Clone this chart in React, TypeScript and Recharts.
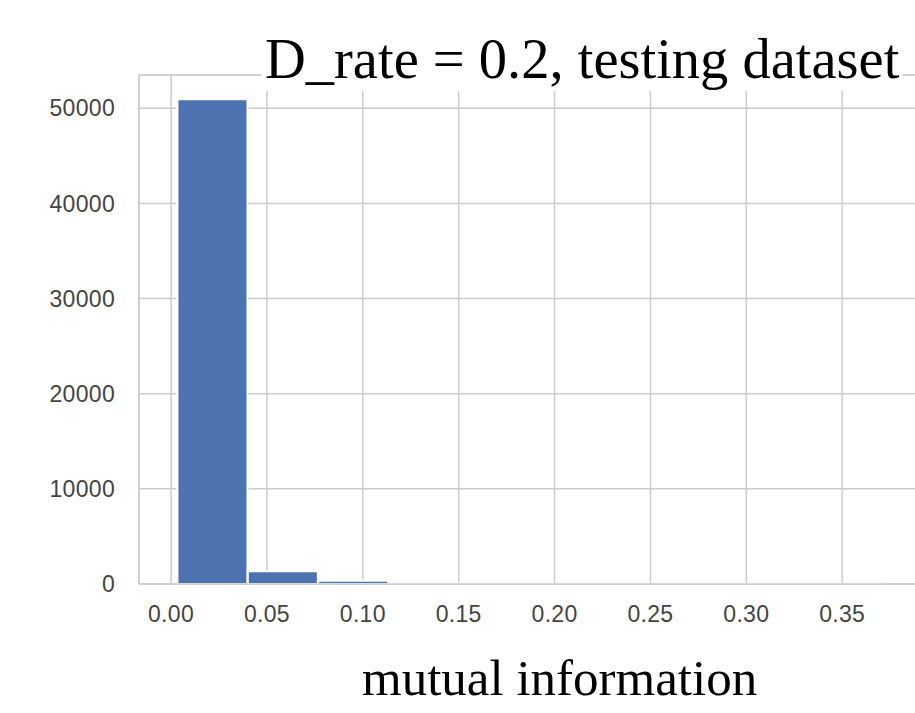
import React from 'react';
import { ComposedChart, Bar, XAxis, YAxis, CartesianGrid, ReferenceLine } from 'recharts';

// Histogram bins of mutual information (bin centres) and their counts
const binMids = [0.0217, 0.0584, 0.0951, 0.1318, 0.1686, 0.2053, 0.2420, 0.2788, 0.3155, 0.3522];
const binCounts = [50950, 1330, 340, 60, 25, 12, 6, 3, 2, 1];

const xTicks = [0, 0.05, 0.1, 0.15, 0.2, 0.25, 0.3, 0.35];
const yTicks = [0, 10000, 20000, 30000, 40000, 50000];

const title = 'D_rate = 0.2, testing dataset';
const xLabel = 'mutual information';

const X_DOMAIN: [number, number] = [-0.0167, 0.389];
const Y_DOMAIN: [number, number] = [0, 53500];

const data = binMids.map((mid, i) => ({ mid, count: binCounts[i] }));

const GRID = '#cccccc';
const BAR = '#4c72b0';
const tickStyle = {
  fontSize: 23,
  fill: '#444444',
  fontFamily: '"Liberation Sans", Arial, sans-serif',
  letterSpacing: 0.3,
};

export default function App() {
  return (
    <div
      style={{
        position: 'absolute',
        left: 0,
        top: 0,
        width: 915,
        height: 713,
        overflow: 'hidden',
        background: '#ffffff',
      }}
    >
      <ComposedChart
        width={920}
        height={713}
        data={data}
        margin={{ top: 75, right: 3, left: 0, bottom: 69 }}
        barCategoryGap={0}
        barGap={0}
      >
        <CartesianGrid stroke={GRID} strokeWidth={1.5} />
        <XAxis
          dataKey="mid"
          type="number"
          domain={X_DOMAIN}
          ticks={xTicks}
          allowDataOverflow
          tickFormatter={(v: number) => v.toFixed(2)}
          height={60}
          tickSize={0}
          tickMargin={22}
          axisLine={{ stroke: GRID, strokeWidth: 1.5 }}
          tick={tickStyle}
        />
        <YAxis
          type="number"
          domain={Y_DOMAIN}
          ticks={yTicks}
          allowDataOverflow
          width={139}
          tickSize={0}
          tickMargin={24}
          axisLine={{ stroke: GRID, strokeWidth: 1.5 }}
          tick={tickStyle}
        />
        <ReferenceLine y={Y_DOMAIN[1]} stroke={GRID} strokeWidth={1.5} />
        <ReferenceLine x={X_DOMAIN[1]} stroke={GRID} strokeWidth={1.5} />
        <Bar
          dataKey="count"
          fill={BAR}
          stroke="#ffffff"
          strokeWidth={2}
          isAnimationActive={false}
        />
      </ComposedChart>
      <div
        style={{
          position: 'absolute',
          left: 261,
          top: 27,
          padding: '0 4px',
          background: '#ffffff',
          fontFamily: '"Liberation Serif", "Times New Roman", serif',
          fontSize: 56.5,
          lineHeight: '64px',
          color: '#000',
          whiteSpace: 'nowrap',
        }}
      >
        {title}
      </div>
      <div
        style={{
          position: 'absolute',
          left: 362,
          top: 649,
          fontFamily: '"Liberation Serif", "Times New Roman", serif',
          fontSize: 51,
          lineHeight: '58px',
          color: '#000',
          whiteSpace: 'nowrap',
        }}
      >
        {xLabel}
      </div>
    </div>
  );
}
